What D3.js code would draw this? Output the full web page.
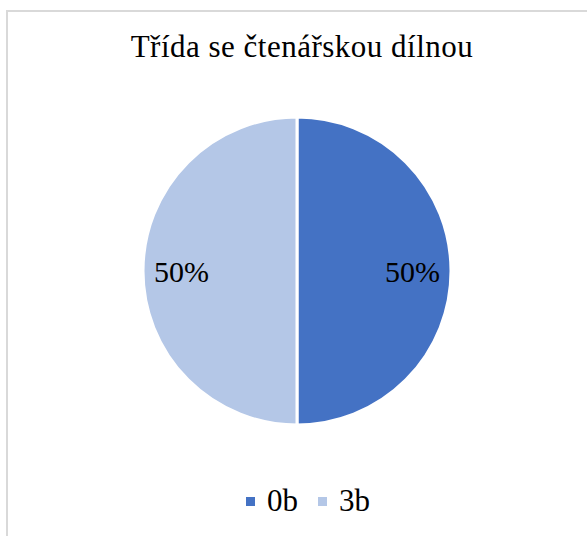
<!DOCTYPE html>
<html>
<head>
    <meta charset="utf-8" />
    <title>Třída se čtenářskou dílnou</title>
    <style>
    	body { margin: 0; background: #fff; }
    	svg text { font-family: "Liberation Serif", "Times New Roman", Times, serif; }
    </style>
</head>
<body>
<script src="https://d3js.org/d3.v7.min.js"></script>
<script>
    var categories = ["0b", "3b"];
    var values = [50, 50];
    var colors = ["#4472C4", "#B4C7E7"];
    var title = "Třída se čtenářskou dílnou";

    var width = 587;
    var height = 536;

    var svg = d3.select("body").append("svg")
    			.attr("width", width)
    			.attr("height", height);

    // chart frame, runs off the bottom/right of the picture
    svg.append("rect")
       .attr("x", 7)
       .attr("y", 11)
       .attr("width", 600)
       .attr("height", 560)
       .attr("fill", "#fff")
       .attr("stroke", "#d9d9d9")
       .attr("stroke-width", 2);

    svg.append("text")
       .attr("x", 302)
       .attr("y", 57)
       .attr("text-anchor", "middle")
       .style("font-size", "31px")
       .style("letter-spacing", "0.5px")
       .attr("fill", "#000")
       .text(title);

    var data = categories.map((c, i) => ({"name": c, "value": values[i]}));
    var total = d3.sum(values);

    var cx = 297, cy = 271, radius = 154;

    var pie = d3.pie().sort(null).value(d => d.value);
    var arc = d3.arc().innerRadius(0).outerRadius(radius);
    var labelArc = d3.arc().innerRadius(radius * 0.75).outerRadius(radius * 0.75);

    var color = d3.scaleOrdinal().domain(categories).range(colors);

    var g = svg.append("g").attr("transform", "translate(" + cx + "," + cy + ")");

    var arcs = pie(data);

    g.selectAll("path")
     .data(arcs)
     .enter().append("path")
     .attr("d", arc)
     .attr("fill", d => color(d.data.name))
     .attr("stroke", "#fff")
     .attr("stroke-width", 3);

    g.selectAll("text")
     .data(arcs)
     .enter().append("text")
     .attr("transform", d => "translate(" + labelArc.centroid(d) + ")")
     .attr("text-anchor", "middle")
     .attr("dy", "0.35em")
     .style("font-size", "30px")
     .attr("fill", "#000")
     .text(d => Math.round(d.value / total * 100) + "%");

    // legend
    var legendX = [246, 318];
    var legend = svg.append("g");
    var items = legend.selectAll("g")
    				  .data(categories)
    				  .enter().append("g")
    				  .attr("transform", (d, i) => "translate(" + legendX[i] + ",497)");

    items.append("rect")
    	 .attr("width", 9)
    	 .attr("height", 9)
    	 .attr("fill", d => color(d));

    items.append("text")
    	 .attr("x", 21)
    	 .attr("y", 14)
    	 .style("font-size", "31px")
    	 .attr("fill", "#000")
    	 .text(d => d);
</script>
</body>
</html>
